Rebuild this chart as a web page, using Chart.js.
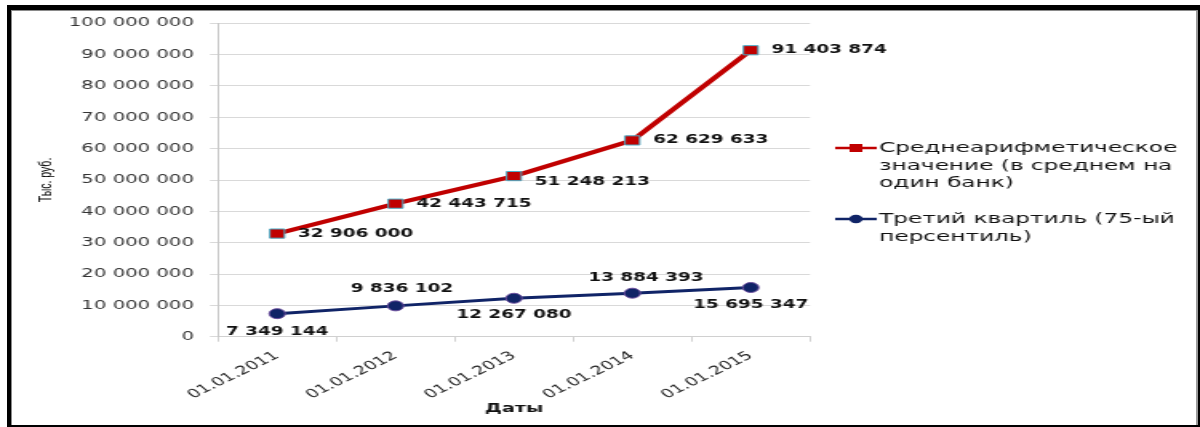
<!DOCTYPE html>
<html>
<head>
<meta charset="utf-8">
<script src="https://cdn.jsdelivr.net/npm/chart.js@4/dist/chart.umd.min.js"></script>
<style>
  html, body { margin: 0; padding: 0; background: #fff; }
  body { width: 1200px; height: 427px; position: relative; overflow: hidden; }
  /* the original picture is stretched sideways, so the chart is drawn narrow and scaled */
  #wrap { position: absolute; left: 0; top: 0; width: 750px; height: 427px; transform: scaleX(1.6); transform-origin: 0 0; }
  #frame { position: absolute; left: 7px; top: 5px; right: 0; bottom: 0;
           border-left: 4px solid #000; border-top: 5px solid #000; border-right: 2px solid #000; border-bottom: 2px solid #000;
           box-shadow: inset 1px 1px 0 #8a8a8a, inset -2px 0 0 #9a9a9a; pointer-events: none; }
</style>
</head>
<body>
<div id="wrap"><canvas id="chart"></canvas></div>
<div id="frame"></div>
<script>
// data
const dates = ['01.01.2011', '01.01.2012', '01.01.2013', '01.01.2014', '01.01.2015'];
const meanValues = [32906000, 42443715, 51248213, 62629633, 91403874];
const q3Values = [7349144, 9836102, 12267080, 13884393, 15695347];
const seriesNames = ['Среднеарифметическое значение (в среднем на один банк)', 'Третий квартиль (75-ый персентиль)'];
const legendLines = [['Среднеарифметическое', 'значение (в среднем на', 'один банк)'], ['Третий квартиль (75-ый', 'персентиль)']];
const yMin = 0, yMax = 100000000, yStep = 10000000;

const fmt = v => String(v).replace(/\B(?=(\d{3})+(?!\d))/g, ' ');

// where each value label sits next to its point
const labelPlace = [
    { align: 'left', off: [[13, 0], [13, 0], [13, 6], [13, 0], [13, 0]] },
    { align: 'center', off: [[0, 18], [4, -16.5], [0, 17], [8.5, -15.5], [0, 18]] }
];

const valueLabels = {
    id: 'valueLabels',
    afterDatasetsDraw(chart) {
        const ctx = chart.ctx;
        ctx.save();
        ctx.font = "bold 11.5px 'DejaVu Sans'";
        ctx.fillStyle = '#111';
        ctx.textBaseline = 'middle';
        chart.data.datasets.forEach((ds, i) => {
            const meta = chart.getDatasetMeta(i);
            ctx.textAlign = labelPlace[i].align;
            meta.data.forEach((pt, j) => {
                const o = labelPlace[i].off[j];
                ctx.fillText(fmt(ds.data[j]), pt.x + o[0], pt.y + o[1]);
            });
        });
        ctx.restore();
    }
};

const sideLegend = {
    id: 'sideLegend',
    afterDraw(chart) {
        const ctx = chart.ctx;
        const rows = [148, 219];
        ctx.save();
        chart.data.datasets.forEach((ds, i) => {
            const y = rows[i];
            ctx.strokeStyle = ds.borderColor;
            ctx.lineWidth = 2.5;
            ctx.beginPath();
            ctx.moveTo(522, y);
            ctx.lineTo(548, y);
            ctx.stroke();
            ctx.fillStyle = ds.pointBackgroundColor;
            ctx.beginPath();
            if (ds.pointStyle === 'rect') ctx.rect(531, y - 4, 8, 8);
            else ctx.arc(535, y, 4.2, 0, Math.PI * 2);
            ctx.fill();
            ctx.fillStyle = '#111';
            ctx.font = "14.5px 'DejaVu Sans'";
            ctx.textAlign = 'left';
            ctx.textBaseline = 'middle';
            legendLines[i].forEach((t, k) => ctx.fillText(t, 549.5, y + k * 17.8));
        });
        ctx.restore();
    }
};

new Chart(document.getElementById('chart'), {
    type: 'line',
    data: {
        labels: dates,
        datasets: [{
            label: seriesNames[0],
            data: meanValues,
            borderColor: '#c00000',
            borderWidth: 4,
            pointStyle: 'rect',
            pointRadius: 6.5,
            pointBackgroundColor: '#c00000',
            pointBorderColor: '#4bacc6',
            pointBorderWidth: 1,
            tension: 0
        }, {
            label: seriesNames[1],
            data: q3Values,
            borderColor: '#102467',
            borderWidth: 3,
            pointStyle: 'circle',
            pointRadius: 5,
            pointBackgroundColor: '#102467',
            pointBorderColor: '#6a4c9c',
            pointBorderWidth: 1,
            tension: 0
        }]
    },
    options: {
        responsive: true,
        maintainAspectRatio: false,
        animation: false,
        layout: { padding: { left: 0, top: 23.3, right: 243.75, bottom: 0 } },
        plugins: { legend: { display: false }, tooltip: { enabled: false } },
        scales: {
            x: {
                offset: true,
                grid: { offset: true, drawOnChartArea: false, drawTicks: true, tickLength: 5, color: '#d0d0d0' },
                border: { display: true, color: '#d0d0d0' },
                ticks: { autoSkip: false, minRotation: 37.5, maxRotation: 37.5, padding: 7, color: '#222', font: { family: 'DejaVu Sans', size: 12 } },
                title: { display: true, text: 'Даты', color: '#111', font: { family: 'DejaVu Sans', size: 12, weight: 'bold' }, padding: { top: 0, bottom: 11 } },
                afterFit: s => { s.height = 90.3; }
            },
            y: {
                min: yMin,
                max: yMax,
                ticks: { stepSize: yStep, padding: 10, color: '#333', font: { family: 'DejaVu Sans', size: 12.3 }, callback: v => fmt(v) },
                grid: { color: '#d9d9d9', tickLength: 5, drawTicks: true },
                border: { display: true, color: '#c8c8c8' },
                title: { display: true, text: 'Тыс. руб.', color: '#000', font: { family: 'Liberation Sans', size: 10.5 }, padding: { top: 23, bottom: 0 } },
                afterFit: s => { s.width = 136.25; }
            }
        }
    },
    plugins: [valueLabels, sideLegend]
});
</script>
</body>
</html>
